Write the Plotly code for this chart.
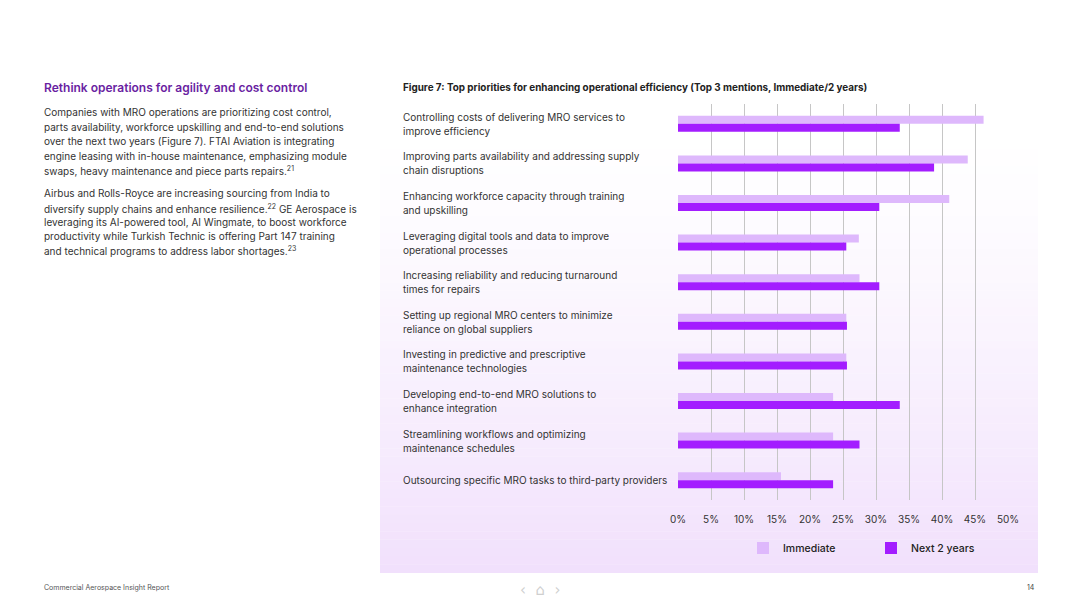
import plotly.graph_objects as go

# ---------------- data ----------------
categories = [
    "Controlling costs of delivering MRO services to<br>improve efficiency",
    "Improving parts availability and addressing supply<br>chain disruptions",
    "Enhancing workforce capacity through training<br>and upskilling",
    "Leveraging digital tools and data to improve<br>operational processes",
    "Increasing reliability and reducing turnaround<br>times for repairs",
    "Setting up regional MRO centers to minimize<br>reliance on global suppliers",
    "Investing in predictive and prescriptive<br>maintenance technologies",
    "Developing end-to-end MRO solutions to<br>enhance integration",
    "Streamlining workflows and optimizing<br>maintenance schedules",
    "Outsourcing specific MRO tasks to third-party providers",
]
immediate = [46.3, 43.9, 41.1, 27.4, 27.5, 25.5, 25.5, 23.5, 23.5, 15.6]
next_2_years = [33.6, 38.8, 30.5, 25.5, 30.5, 25.6, 25.6, 33.6, 27.5, 23.5]
tick_values = [0, 5, 10, 15, 20, 25, 30, 35, 40, 45, 50]
tick_labels = ["0%", "5%", "10%", "15%", "20%", "25%", "30%", "35%", "40%", "45%", "50%"]
series_names = ["Immediate", "Next 2 years"]

heading = "Rethink operations for agility and cost control"
para1_lines = [
    "Companies with MRO operations are prioritizing cost control,",
    "parts availability, workforce upskilling and end-to-end solutions",
    "over the next two years (Figure 7). FTAI Aviation is integrating",
    "engine leasing with in-house maintenance, emphasizing module",
    "swaps, heavy maintenance and piece parts repairs.<sup>21</sup>",
]
para2_lines = [
    "Airbus and Rolls-Royce are increasing sourcing from India to",
    "diversify supply chains and enhance resilience.<sup>22</sup> GE Aerospace is",
    "leveraging its AI-powered tool, AI Wingmate, to boost workforce",
    "productivity while Turkish Technic is offering Part 147 training",
    "and technical programs to address labor shortages.<sup>23</sup>",
]
chart_title = "Figure 7: Top priorities for enhancing operational efficiency (Top 3 mentions, Immediate/2 years)"
footer_text = "Commercial Aerospace Insight Report"
page_number = "14"

W, H = 1080, 607
FONT = "Inter"
C_IMM = "#DEB8FC"
C_NEXT = "#A31DFF"
TXT = "#333333"


def px(x):
    return x / W


def py(y):
    return 1 - y / H


fig = go.Figure()
fig.add_trace(go.Bar(y=categories, x=immediate, orientation="h", name=series_names[0],
                     marker=dict(color=C_IMM, line=dict(width=0)), hoverinfo="skip"))
fig.add_trace(go.Bar(y=categories, x=next_2_years, orientation="h", name=series_names[1],
                     marker=dict(color=C_NEXT, line=dict(width=0)), hoverinfo="skip"))

shapes = []
# gradient panel behind chart
top, bot = 75, 573
n = 60
c0 = (255, 255, 255)
c1 = (241, 224, 252)
for i in range(n):
    y0 = top + (bot - top) * i / n
    y1 = top + (bot - top) * (i + 1) / n
    t = (i + 0.5) / n
    t = max(0.0, (t - 0.12) / 0.88) ** 1.3
    col = tuple(round(c0[k] + (c1[k] - c0[k]) * t) for k in range(3))
    shapes.append(dict(type="rect", xref="paper", yref="paper",
                       x0=px(380), x1=px(1038), y0=py(y1), y1=py(y0) + 0.0005,
                       fillcolor="rgb(%d,%d,%d)" % col, line=dict(width=0), layer="below"))

annotations = []
# category labels (one annotation per line for exact line spacing)
for c in categories:
    parts = c.split("<br>")
    if len(parts) == 1:
        shifts = [0]
    else:
        shifts = [7, -7]
    for line, s in zip(parts, shifts):
        annotations.append(dict(text=line, x=px(401), xref="paper", y=c, yref="y", yshift=s,
                                xanchor="left", yanchor="middle", align="left", showarrow=False,
                                font=dict(family=FONT, size=10, color=TXT)))

annotations.append(dict(text="<b>%s</b>" % chart_title,
                        x=px(401), y=py(87), xref="paper", yref="paper", xanchor="left", yanchor="middle",
                        showarrow=False, font=dict(family=FONT, size=9.9, color="#222222")))

annotations.append(dict(text=heading,
                        x=px(42), y=py(88), xref="paper", yref="paper", xanchor="left", yanchor="middle",
                        showarrow=False, font=dict(family=FONT, size=12, color="#6A1FA2", weight=600)))

for lines, ys in ((para1_lines, [112, 127, 141, 156, 170]), (para2_lines, [193, 208, 222, 236, 250])):
    for line, yy in zip(lines, ys):
        annotations.append(dict(text=line, x=px(42), y=py(yy), xref="paper", yref="paper",
                                xanchor="left", yanchor="middle", align="left", showarrow=False,
                                font=dict(family=FONT, size=10, color=TXT)))

annotations.append(dict(text=footer_text, x=px(42), y=py(587),
                        xref="paper", yref="paper", xanchor="left", yanchor="middle", showarrow=False,
                        font=dict(family=FONT, size=7, color="#555555")))
annotations.append(dict(text=page_number, x=px(1037), y=py(587), xref="paper", yref="paper",
                        xanchor="right", yanchor="middle", showarrow=False,
                        font=dict(family=FONT, size=7, color="#444444")))
annotations.append(dict(text="\u2039  \u2302  \u203a", x=px(540), y=py(590), xref="paper", yref="paper",
                        xanchor="center", yanchor="middle", showarrow=False,
                        font=dict(family="DejaVu Sans", size=15, color="#cfcfcf")))

fig.update_layout(
    width=W, height=H,
    margin=dict(l=0, r=0, t=0, b=0, pad=0, autoexpand=False),
    paper_bgcolor="white", plot_bgcolor="rgba(0,0,0,0)",
    barmode="group", bargap=0.596, bargroupgap=0,
    hovermode=False,
    font=dict(family=FONT, size=10, color=TXT),
    xaxis=dict(domain=[px(678), px(1008)], range=[0, 50], tickvals=tick_values, ticktext=tick_labels,
               showgrid=True, gridcolor="#c6c6c6", gridwidth=1, zeroline=False,
               showline=False, ticks="", ticklabelstandoff=12, automargin=False,
               tickfont=dict(family=FONT, size=10, color=TXT)),
    yaxis=dict(domain=[py(500), py(104)], autorange="reversed", showticklabels=False,
               showgrid=False, zeroline=False, showline=False, ticks="", automargin=False),
    legend=dict(orientation="h", x=px(743), y=py(548), xanchor="left", yanchor="middle",
                bgcolor="rgba(0,0,0,0)", entrywidth=83, entrywidthmode="pixels",
                font=dict(family=FONT, size=10.5, color="#222222", weight=500), traceorder="normal"),
    shapes=shapes, annotations=annotations,
)

fig.write_html("out.html", config={"displayModeBar": False, "responsive": False},
               post_script="document.body.style.margin='0';document.body.style.overflow='hidden';")
